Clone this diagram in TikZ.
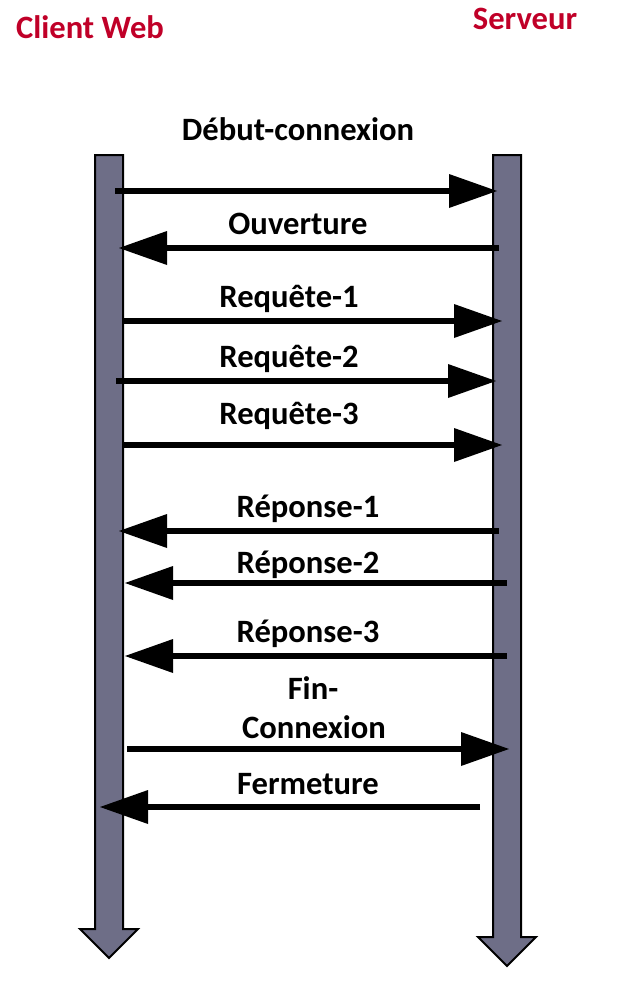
\documentclass[tikz,border=0pt]{standalone}
\usepackage{fontspec}
\setmainfont{Carlito}
\usetikzlibrary{arrows.meta}
\definecolor{titlered}{RGB}{192,0,40}
\definecolor{lifegray}{RGB}{110,110,135}

\begin{document}
\begin{tikzpicture}[x=1pt,y=-1pt]
		\tikzstyle{lifeline} = [draw=black, line width=2pt, fill=lifegray]
		\tikzstyle{msg} = [line width=6.5pt, -{Triangle[length=48pt,width=34pt,line width=0pt]}]
		\tikzstyle{lbl} = [anchor=base, inner sep=0pt, font=\fontsize{32.6}{36}\selectfont\bfseries]
		\tikzstyle{title} = [lbl, text=titlered]
		\useasboundingbox (0,0) rectangle (640,990);
		% lifelines
		\draw[lifeline] (95,155) -- (123,155) -- (123,929) -- (138,929) -- (109,958) -- (80,929) -- (95,929) -- cycle;
		\draw[lifeline] (493,155) -- (521,155) -- (521,937) -- (536,937) -- (507,966) -- (478,937) -- (493,937) -- cycle;
		% titles
		\node (client) [title] at (90,38) {Client Web};
		\node (serveur) [title] at (525,30) {Serveur};
		% end points on the lifelines
		\coordinate (c1) at (115,191);  \coordinate (s1) at (497,191);
		\coordinate (c2) at (119,248);  \coordinate (s2) at (499,248);
		\coordinate (c3) at (122,321);  \coordinate (s3) at (502,321);
		\coordinate (c4) at (116,381);  \coordinate (s4) at (496,381);
		\coordinate (c5) at (122,445);  \coordinate (s5) at (502,445);
		\coordinate (c6) at (119,531);  \coordinate (s6) at (499,531);
		\coordinate (c7) at (125,583);  \coordinate (s7) at (507,583);
		\coordinate (c8) at (125,656);  \coordinate (s8) at (507,656);
		\coordinate (c9) at (127,749);  \coordinate (s9) at (509,749);
		\coordinate (c10) at (100,807); \coordinate (s10) at (480,807);
		% messages
		\draw[msg] (c1) -- (s1);
		\draw[msg] (s2) -- (c2);
		\draw[msg] (c3) -- (s3);
		\draw[msg] (c4) -- (s4);
		\draw[msg] (c5) -- (s5);
		\draw[msg] (s6) -- (c6);
		\draw[msg] (s7) -- (c7);
		\draw[msg] (s8) -- (c8);
		\draw[msg] (c9) -- (s9);
		\draw[msg] (s10) -- (c10);
		% labels
		\node (debut) [lbl] at (298,140) {Début-connexion};
		\node (ouverture) [lbl] at (298,234) {Ouverture};
		\node (req1) [lbl] at (289,307) {Requête-1};
		\node (req2) [lbl] at (289,367) {Requête-2};
		\node (req3) [lbl] at (289,424) {Requête-3};
		\node (rep1) [lbl] at (308,517) {Réponse-1};
		\node (rep2) [lbl] at (308,573) {Réponse-2};
		\node (rep3) [lbl] at (308,642) {Réponse-3};
		\node (fin) [lbl] at (313,699) {Fin-};
		\node (connexion) [lbl] at (314,738) {Connexion};
		\node (fermeture) [lbl] at (308,794) {Fermeture};
	\end{tikzpicture}
\end{document}
